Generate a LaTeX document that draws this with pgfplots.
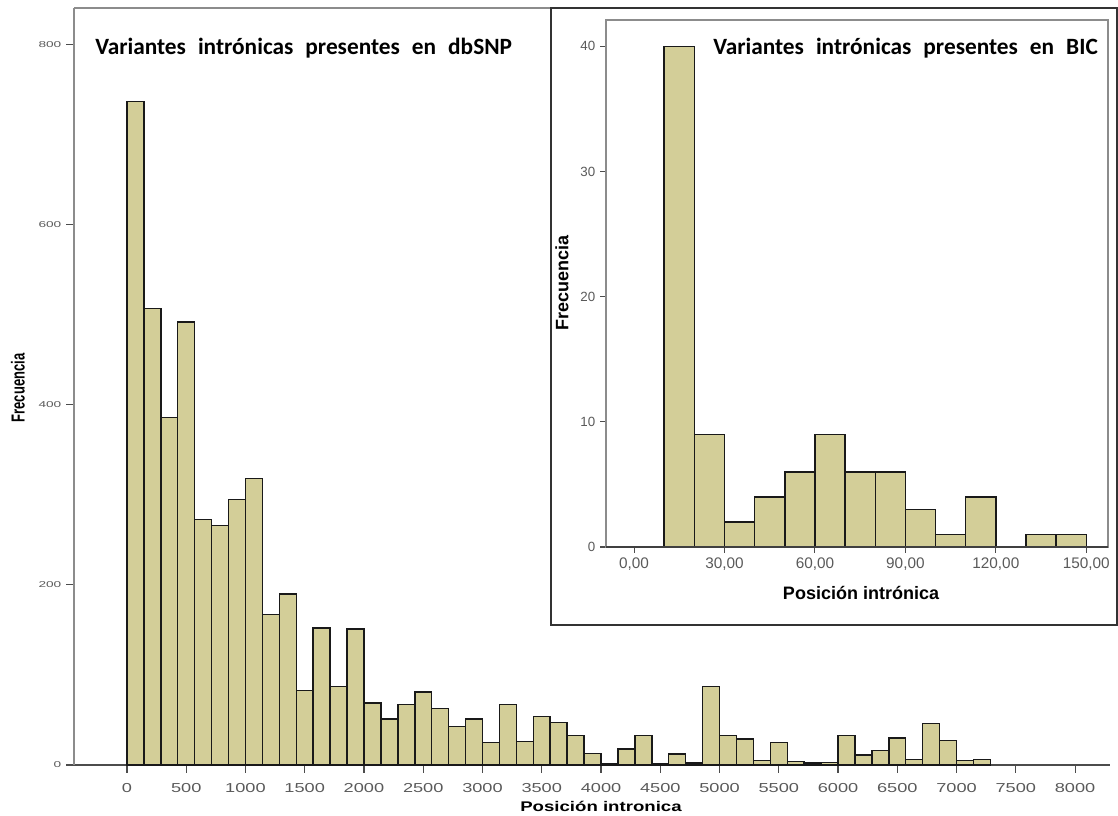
\documentclass[border=0pt]{standalone}
\usepackage{graphicx}
\usepackage{pgfplots}
\pgfplotsset{compat=1.18}
\usepackage{fontspec}
\setmainfont{Liberation Sans}
\newfontfamily\titlefont{Carlito}
\newfontfamily\widefont[FakeStretch=1.4]{Liberation Sans}
\newfontfamily\widerfont[FakeStretch=1.6]{Liberation Sans}
\newfontfamily\labelfont[FakeStretch=1.33]{Liberation Sans}
\definecolor{barfill}{RGB}{211,206,152}
\definecolor{tickgray}{RGB}{90,90,90}

% dbSNP intronic positions, bins of 1000/7
\pgfplotstableread{
x y
0 737
142.857 507
285.714 386
428.571 492
571.429 273
714.286 266
857.143 295
1000 318
1142.857 167
1285.714 190
1428.571 83
1571.429 152
1714.286 87
1857.143 151
2000 69
2142.857 51
2285.714 67
2428.571 81
2571.429 63
2714.286 43
2857.143 51
3000 25
3142.857 67
3285.714 26
3428.571 54
3571.429 47
3714.286 33
3857.143 13
4000 1
4142.857 18
4285.714 33
4428.571 1
4571.429 12
4714.286 2
4857.143 87
5000 33
5142.857 29
5285.714 5
5428.571 25
5571.429 4
5714.286 2
5857.143 3
6000 33
6142.857 11
6285.714 16
6428.571 30
6571.429 6
6714.286 46
6857.143 27
7000 5
7142.857 6
7285.714 6
}\dbsnp

% BIC intronic positions, bins of 10
\pgfplotstableread{
x y
0 0
10 40
20 9
30 2
40 4
50 6
60 9
70 6
80 6
90 3
100 1
110 4
120 0
130 1
140 1
150 1
}\bic

\begin{document}
\begin{tikzpicture}
\path[use as bounding box] (0pt,0pt) rectangle (838.5pt,612pt);

% main histogram
\begin{axis}[
  at={(55.5pt,38.25pt)}, anchor=south west,
  scale only axis, width=777pt, height=567.75pt,
  xmin=-447, xmax=8295, ymin=0, ymax=841,
  axis x line=bottom, axis y line=left,
  axis line style={-},
  x axis line style={draw=black!70, line width=0.8pt},
  y axis line style={draw=black!45, line width=0.8pt},
  xtick={0,500,...,8000}, ytick={0,200,...,800},
  tick align=outside, major tick length=6pt,
  tick style={draw=black!70, line width=0.8pt},
  /pgf/number format/assume math mode=true,
  /pgf/number format/1000 sep={},
  x tick label style={font=\widefont\fontsize{9.75}{10}\selectfont, text=tickgray, yshift=-4pt},
  y tick label style={font=\widerfont\fontsize{6.4}{7}\selectfont, text=tickgray},
  clip=false,
]
\addplot[ybar interval, fill=barfill, draw=black!90, line width=1.1pt] table[x=x,y=y] {\dbsnp};
\draw[black!45, line width=0.8pt] (rel axis cs:0,1) -- (rel axis cs:1,1);
\end{axis}

\node[rotate=90, font=\bfseries\fontsize{9.75}{10}\selectfont] at (13.5pt,321pt) {\scalebox{1}[1.45]{Frecuencia}};
\node[font=\labelfont\bfseries\fontsize{10.5}{11}\selectfont] at (450.75pt,7.5pt) {Posición intronica};
\node[anchor=west, inner sep=0pt, font=\titlefont\bfseries\fontsize{17.5}{20}\selectfont] at (71.25pt,576pt) {\spaceskip=9pt\relax Variantes intrónicas presentes en dbSNP};

% inset panel
\draw[black!80, line width=1.1pt, fill=white] (413.25pt,143.25pt) rectangle (837.6pt,606pt);

\begin{axis}[
  at={(454.5pt,201.75pt)}, anchor=south west,
  scale only axis, width=376.5pt, height=395.25pt,
  xmin=-9.3, xmax=157.2, ymin=0, ymax=42.1,
  xtick={0,30,...,150},
  xticklabels={{0,00},{30,00},{60,00},{90,00},{120,00},{150,00}},
  ytick={0,10,...,40},
  xtick pos=left, ytick pos=left,
  tick align=outside, major tick length=4.5pt,
  tick style={draw=black!70, line width=0.8pt},
  axis line style={draw=black!45, line width=0.8pt},
  /pgf/number format/assume math mode=true,
  x tick label style={font=\fontsize{11.5}{12}\selectfont, text=tickgray},
  y tick label style={font=\fontsize{10}{11}\selectfont, text=tickgray},
  clip=false,
]
\addplot[ybar interval, fill=barfill, draw=black!90, line width=1.1pt] table[x=x,y=y] {\bic};
\draw[black!75, line width=0.8pt] (rel axis cs:0,0) -- (rel axis cs:1,0);
\end{axis}

\node[rotate=90, font=\bfseries\fontsize{13.5}{14}\selectfont] at (421.5pt,399.75pt) {Frecuencia};
\node[font=\bfseries\fontsize{13.5}{14}\selectfont] at (645.75pt,167.25pt) {Posición intrónica};
\node[anchor=west, inner sep=0pt, font=\titlefont\bfseries\fontsize{17.5}{20}\selectfont] at (534.75pt,576pt) {\spaceskip=9pt\relax Variantes intrónicas presentes en BIC};
\end{tikzpicture}
\end{document}
